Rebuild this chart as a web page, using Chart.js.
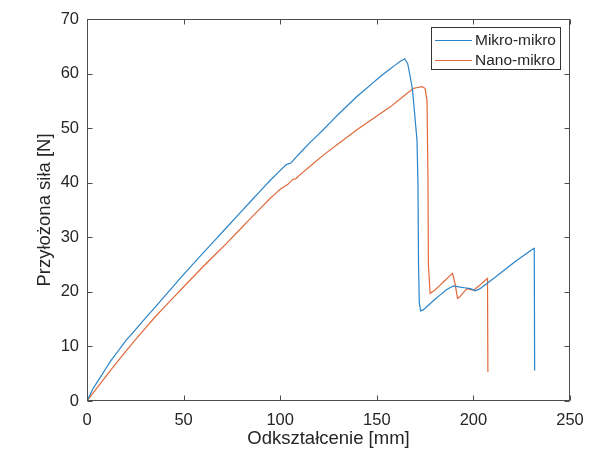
<!DOCTYPE html>
<html>
<head>
<meta charset="utf-8">
<script src="https://cdn.jsdelivr.net/npm/chart.js@4.4.0/dist/chart.umd.min.js"></script>
<style>
  html, body { margin: 0; padding: 0; background: #fff; }
  canvas { display: block; }
</style>
</head>
<body>
<canvas id="chart" width="603" height="452"></canvas>
<script>
// values
const seriesNames = ["Mikro-mikro", "Nano-mikro"];

const mikroX = [0, 3, 7.7, 12, 16.4, 20, 30, 39, 48.3, 60, 72, 85, 95, 103, 105.5, 108, 115, 122.5, 130, 139.7, 148, 152, 157, 162, 164.4, 166, 167, 168.5, 170, 170.8, 171.3, 171.6, 172, 172.7, 174, 180, 186, 189.8, 192.4, 198.4, 201, 203.6, 208, 213.9, 222.5, 231.5, 231.7];
const mikroY = [0, 2.2, 4.8, 7.2, 9.3, 11.0, 15.1, 18.7, 22.5, 27.1, 31.7, 36.7, 40.5, 43.3, 43.6, 44.6, 47.2, 49.8, 52.5, 55.8, 58.3, 59.5, 60.9, 62.2, 62.7, 61.8, 60, 57, 51, 47.8, 40, 25, 18, 16.5, 16.7, 18.6, 20.4, 21.1, 20.9, 20.6, 20.2, 20.6, 21.8, 23.4, 25.8, 28.0, 5.6];

const nanoX = [0, 5, 10, 16.4, 25, 35, 44.3, 48.3, 60, 72, 85, 95, 100, 104, 106.5, 108, 110, 122.5, 139.7, 157, 169, 173.4, 175, 176, 176.5, 176.7, 177.6, 180, 185, 189.2, 190.5, 191.8, 193, 196.6, 200, 203.6, 207.3, 207.5];
const nanoY = [0, 2.3, 4.6, 7.5, 11.2, 15.3, 18.8, 20.3, 24.6, 28.8, 33.6, 37.2, 38.8, 39.7, 40.6, 40.7, 41.4, 45.1, 49.7, 53.9, 57.3, 57.6, 57.3, 55, 40, 25, 19.7, 20.3, 22, 23.4, 21.5, 18.8, 19.1, 20.6, 20.3, 21.3, 22.5, 5.3];

const xTicks = [0, 50, 100, 150, 200, 250];
const yTicks = [0, 10, 20, 30, 40, 50, 60, 70];

const FONT = "Arial, 'Liberation Sans', Helvetica, sans-serif";
const AXIS_COLOR = "#4d4d4d";

function toPoints(xs, ys) {
  return xs.map((x, i) => ({ x: x, y: ys[i] }));
}

// box round the plot with inward ticks on all four sides
const boxPlugin = {
  id: "box",
  afterDatasetsDraw(chart) {
    const ctx = chart.ctx;
    const a = chart.chartArea;
    const xs = chart.scales.x, ys = chart.scales.y;
    const L = Math.round(a.left) + 0.5, R = Math.round(a.right) - 0.5;
    const T = Math.round(a.top) + 0.5, B = Math.round(a.bottom) - 0.5;
    const len = 5;
    ctx.save();
    ctx.strokeStyle = AXIS_COLOR;
    ctx.lineWidth = 1;
    ctx.strokeRect(L, T, R - L, B - T);
    ctx.beginPath();
    xs.ticks.forEach(t => {
      const p = Math.round(xs.getPixelForValue(t.value)) + 0.5;
      ctx.moveTo(p, B); ctx.lineTo(p, B - len);
      ctx.moveTo(p, T); ctx.lineTo(p, T + len);
    });
    ys.ticks.forEach(t => {
      const p = Math.round(ys.getPixelForValue(t.value)) + 0.5;
      ctx.moveTo(L, p); ctx.lineTo(L + len, p);
      ctx.moveTo(R, p); ctx.lineTo(R - len, p);
    });
    ctx.stroke();
    ctx.restore();
  }
};

// matlab style legend box in the upper right corner
const legendBoxPlugin = {
  id: "legendBox",
  afterDraw(chart) {
    const ctx = chart.ctx;
    const left = 431, top = 27, w = 129, h = 42;
    ctx.save();
    ctx.fillStyle = "#fff";
    ctx.fillRect(left, top, w, h);
    ctx.strokeStyle = "#333";
    ctx.lineWidth = 1;
    ctx.strokeRect(left + 0.5, top + 0.5, w, h);
    ctx.font = "15.5px " + FONT;
    ctx.textBaseline = "middle";
    chart.data.datasets.forEach((ds, i) => {
      const y = top + 13 + i * 20;
      ctx.strokeStyle = ds.borderColor;
      ctx.lineWidth = 1.2;
      ctx.beginPath();
      ctx.moveTo(435, y + 0.5);
      ctx.lineTo(472, y + 0.5);
      ctx.stroke();
      ctx.fillStyle = "#262626";
      ctx.fillText(ds.label, 475, y + 1);
    });
    ctx.restore();
  }
};

new Chart(document.getElementById("chart"), {
  type: "scatter",
  data: {
    datasets: [
      {
        label: seriesNames[0],
        data: toPoints(mikroX, mikroY),
        borderColor: "#2a84c9",
        backgroundColor: "#2a84c9",
        showLine: true,
        borderWidth: 1.2,
        pointRadius: 0,
        tension: 0.001
      },
      {
        label: seriesNames[1],
        data: toPoints(nanoX, nanoY),
        borderColor: "#e0693a",
        backgroundColor: "#e0693a",
        showLine: true,
        borderWidth: 1.2,
        pointRadius: 0,
        tension: 0.001
      }
    ]
  },
  options: {
    responsive: false,
    animation: false,
    devicePixelRatio: 1,
    layout: { padding: { left: 0, right: 33, top: 19, bottom: 0 } },
    plugins: {
      legend: { display: false },
      tooltip: { enabled: false }
    },
    scales: {
      x: {
        type: "linear",
        min: 0,
        max: 250,
        afterBuildTicks: s => { s.ticks = xTicks.map(v => ({ value: v })); },
        afterFit: s => { s.height = 51; },
        grid: { display: false, drawTicks: false },
        border: { display: false },
        ticks: { color: "#262626", font: { size: 16.5, family: FONT }, padding: 10, maxRotation: 0 },
        title: {
          display: true,
          text: "Odkształcenie [mm]",
          color: "#262626",
          font: { size: 18.5, family: FONT },
          padding: { top: 0, bottom: 2 }
        }
      },
      y: {
        type: "linear",
        min: 0,
        max: 70,
        afterBuildTicks: s => { s.ticks = yTicks.map(v => ({ value: v })); },
        afterFit: s => { s.width = 87; },
        grid: { display: false, drawTicks: false },
        border: { display: false },
        ticks: { color: "#262626", font: { size: 16.5, family: FONT }, padding: 8 },
        title: {
          display: true,
          text: "Przyłożona siła [N]",
          color: "#262626",
          font: { size: 18.5, family: FONT },
          padding: { top: 34, bottom: 0 }
        }
      }
    }
  },
  plugins: [boxPlugin, legendBoxPlugin]
});
</script>
</body>
</html>
